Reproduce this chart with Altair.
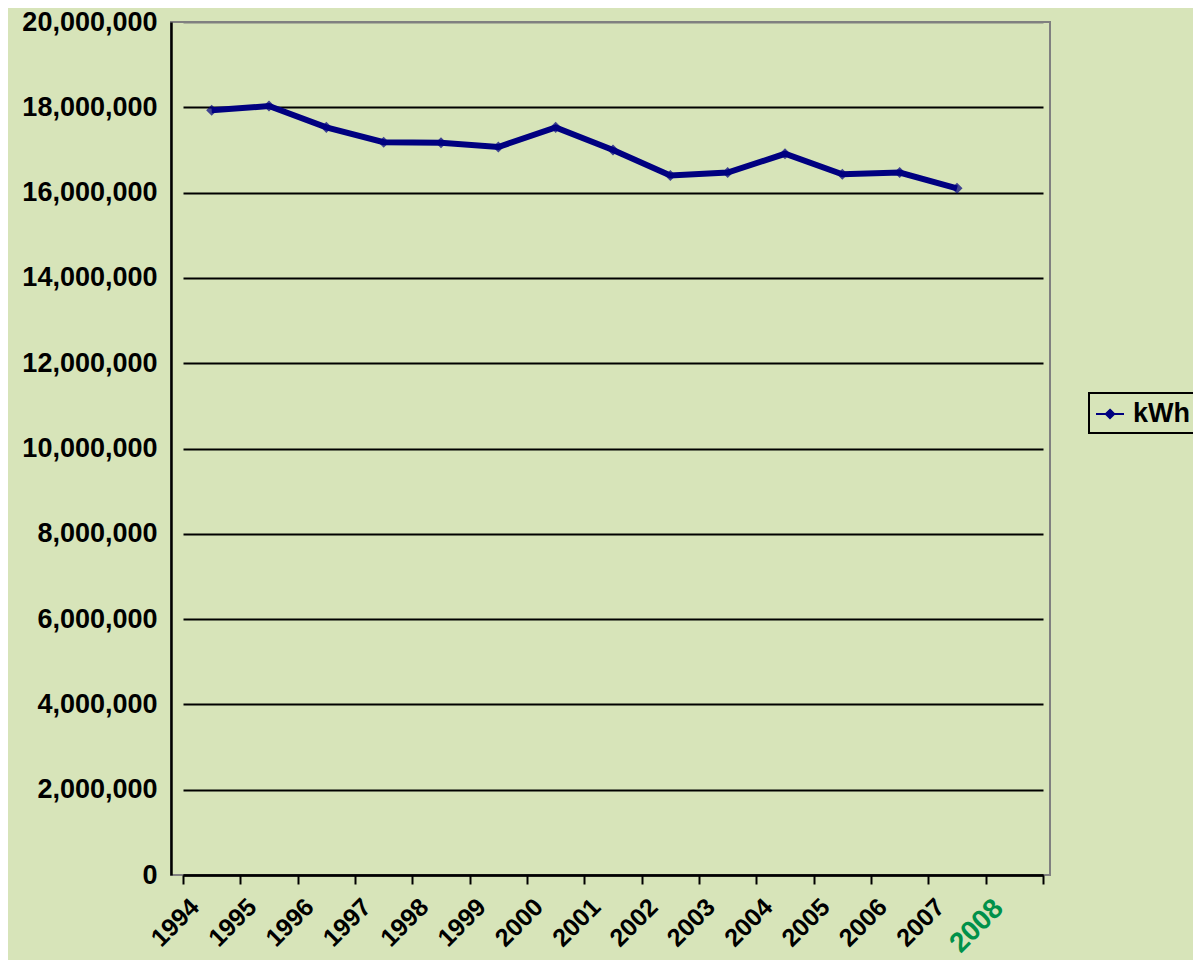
import altair as alt
import pandas as pd

years = [1994, 1995, 1996, 1997, 1998, 1999, 2000, 2001, 2002, 2003, 2004, 2005, 2006, 2007]
kwh = [17930000, 18030000, 17530000, 17180000, 17170000, 17070000, 17530000,
       17000000, 16400000, 16470000, 16910000, 16430000, 16470000, 16100000]
tick_positions = [1993.5 + i for i in range(16)]
y_ticks = list(range(0, 20000001, 2000000))
series_name = "kWh"

df = pd.DataFrame({"year": years, "kwh": kwh, "series": [series_name] * len(years)})

FONT = "Liberation Sans"
NAVY = "#000080"

x_enc = alt.X(
    "year:Q",
    scale=alt.Scale(domain=[1993.5, 2008.5], range=[12, 872], nice=False, zero=False),
    axis=alt.Axis(
        values=tick_positions,
        title=None,
        grid=False,
        labelExpr="datum.value < 2008 ? format(datum.value + 0.5, 'd') : ''",
        labelAngle=-45,
        labelAlign="right",
        labelBaseline="top",
        labelOffset=3,
        labelPadding=10,
        labelFont=FONT,
        labelFontWeight="bold",
        labelFontSize={"condition": {"test": "datum.value == 2007.5", "value": 28}, "value": 25},
        labelColor={"condition": {"test": "datum.value == 2007.5", "value": "#00914a"}, "value": "black"},
        labelOverlap=False,
        labelBound=False,
        labelFlush=False,
        tickSize=9,
        tickWidth=2,
        tickColor="black",
        domainColor="black",
        domainWidth=2.5,
    ),
)

y_enc = alt.Y(
    "kwh:Q",
    scale=alt.Scale(domain=[0, 20000000], nice=False),
    axis=alt.Axis(
        values=y_ticks,
        format=",d",
        title=None,
        labelFont=FONT,
        labelFontSize=27,
        labelFontWeight="bold",
        labelColor="black",
        labelPadding=14,
        ticks=False,
        domainColor="black",
        domainWidth=2.5,
        grid=True,
        gridColor={"condition": {"test": "datum.value == 20000000", "value": "#808080"}, "value": "black"},
        gridWidth=2,
    ),
)

line = alt.Chart(df).mark_line(strokeWidth=6).encode(
    x=x_enc,
    y=y_enc,
    color=alt.Color(
        "series:N",
        scale=alt.Scale(range=[NAVY]),
        legend=alt.Legend(
            title=None,
            orient="none",
            legendX=918,
            legendY=371,
            symbolType="M-1,0L1,0M0,-0.3L0.3,0L0,0.3L-0.3,0Z",
            symbolSize=784,
            symbolStrokeWidth=2,
            symbolFillColor=NAVY,
            symbolStrokeColor=NAVY,
            labelFont=FONT,
            labelFontSize=27,
            labelFontWeight="bold",
            labelColor="black",
            labelOffset=8,
            padding=6,
            strokeColor="black",
        ),
    ),
)

points = alt.Chart(df).mark_point(
    shape="diamond", filled=True, size=80, color=NAVY, stroke=NAVY, strokeWidth=1.5
).encode(
    x="year:Q",
    y="kwh:Q",
)

chart = (
    alt.layer(line, points)
    .properties(
        width=879,
        height=853,
        autosize=alt.AutoSizeParams(type="none"),
        padding={"left": 163, "top": 14, "right": 143, "bottom": 85},
    )
    .configure(background="#d7e4b9")
    .configure_view(stroke="#808080", strokeWidth=2, fill="#d7e4b9")
    .configure_legend(strokeWidth=2)
)

chart.save("out.html", embed_options={"renderer": "svg", "actions": False})
